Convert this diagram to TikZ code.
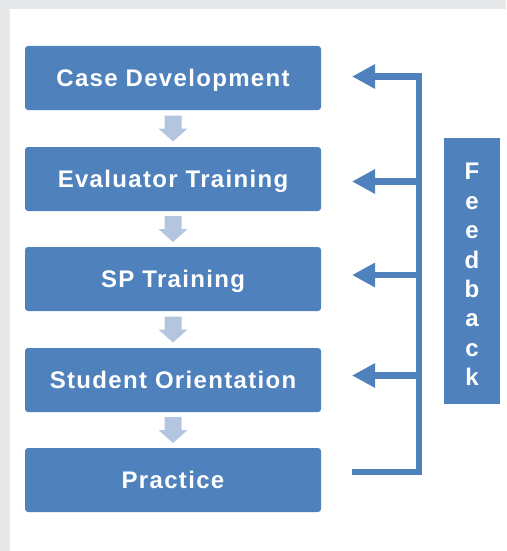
\documentclass[tikz,border=0pt]{standalone}
\usepackage{fontspec}
\setmainfont{Liberation Sans}
\newfontfamily\boxfont[LetterSpace=5.5]{Liberation Sans}
\usetikzlibrary{arrows.meta,calc}
\definecolor{boxblue}{RGB}{79,129,189}
\definecolor{lightarr}{RGB}{180,197,223}
\definecolor{framegray}{RGB}{231,232,234}
\begin{document}
\begin{tikzpicture}[x=1pt,y=-1pt,
  stepbox/.style={fill=boxblue, rounded corners=3pt, minimum width=296pt,
    minimum height=64pt, inner sep=0pt, text=white,
    font={\boxfont\bfseries\fontsize{24}{28}\selectfont},
    text height=17pt, text depth=0pt},
  fbbox/.style={fill=boxblue, minimum width=56pt, minimum height=266pt, inner sep=0pt},
  fbtext/.style={text=white, align=center, inner sep=0pt,
    font={\bfseries\fontsize{24}{29.4}\selectfont}},
  downarrow/.style={fill=lightarr},
  fbline/.style={draw=boxblue, line width=6.5pt, line join=miter},
  fbtip/.style={-{Triangle[length=23pt,width=23pt]}}
]
% frame
\fill[framegray] (0,0) rectangle (506,551);
\fill[white] (10,9) rectangle (506,551);
\useasboundingbox (0,0) rectangle (506,551);

% steps
\node[stepbox] (n1) at (173,78)  {Case Development};
\node[stepbox] (n2) at (173,179) {Evaluator Training};
\node[stepbox] (n3) at (173,279) {SP Training};
\node[stepbox] (n4) at (173,380) {Student Orientation};
\node[stepbox] (n5) at (173,480) {Practice};

% down arrows
\foreach \a/\b in {n1/n2,n2/n3,n3/n4,n4/n5}{
  \coordinate (m\a) at ($(\a.south)!0.5!(\b.north)$);
  \fill[downarrow] ($(m\a)+(-8.5,-13)$) -- ($(m\a)+(8.5,-13)$) -- ($(m\a)+(8.5,0)$)
    -- ($(m\a)+(14.5,0)$) -- ($(m\a)+(0,13)$) -- ($(m\a)+(-14.5,0)$)
    -- ($(m\a)+(-8.5,0)$) -- cycle;
}

% feedback connectors
\coordinate (f1) at (352,76.5);
\coordinate (f2) at (352,181.5);
\coordinate (f3) at (352,275);
\coordinate (f4) at (352,375.5);
\coordinate (f5) at (352,472);
\coordinate (s1) at (419,76.5);
\coordinate (s2) at (419,181.5);
\coordinate (s3) at (419,275);
\coordinate (s4) at (419,375.5);
\coordinate (s5) at (419,472);
\draw[fbline,fbtip] (f5) -- (s5) -- (s1) -- (f1);
\draw[fbline,fbtip] (s2) -- (f2);
\draw[fbline,fbtip] (s3) -- (f3);
\draw[fbline,fbtip] (s4) -- (f4);

% feedback box
\node[fbbox] (fb) at (472,271) {};
\node[fbtext] (fbt) at (472,274.5) {F\\e\\e\\d\\b\\a\\c\\k};
\end{tikzpicture}
\end{document}
